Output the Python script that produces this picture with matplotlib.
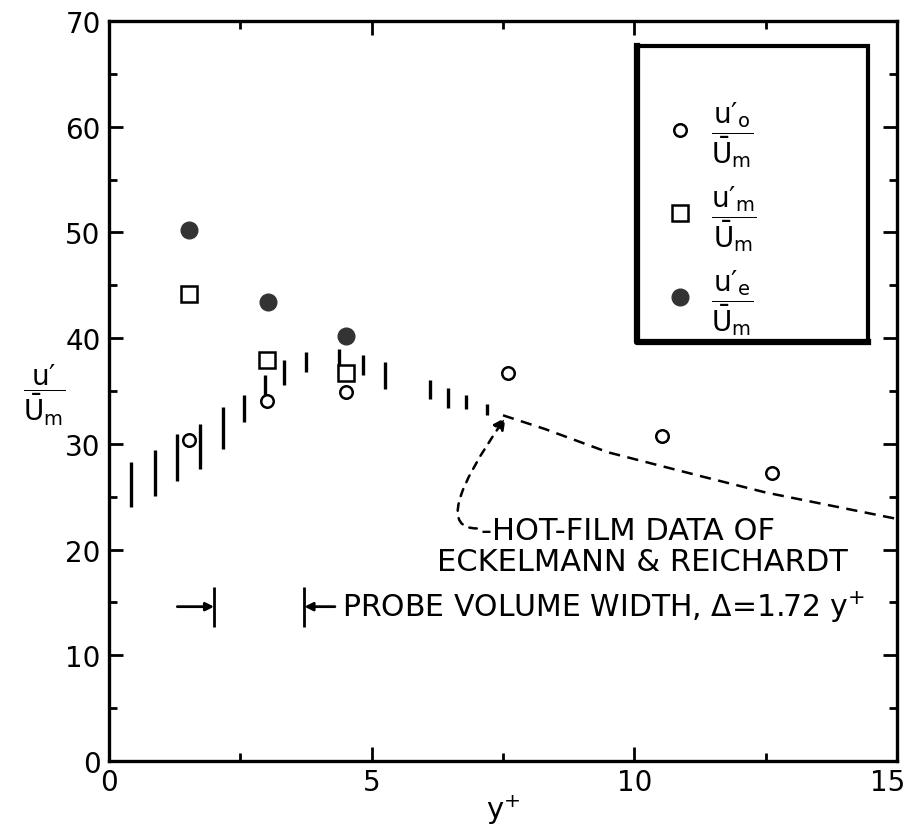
"""Turbulence intensity near the wall: u'/U_m against y+ (recreated figure)."""

import matplotlib

matplotlib.use("Agg")
import matplotlib.pyplot as plt
import matplotlib.transforms as mtransforms
from matplotlib.lines import Line2D
from matplotlib.patches import Rectangle

# data
y_plus_open = [1.52, 3.0, 4.51, 7.6, 10.53, 12.62]
u_open = [30.4, 34.1, 34.9, 36.7, 30.7, 27.2]
y_plus_square = [1.52, 3.0, 4.51]
u_square = [44.2, 37.9, 36.7]
y_plus_filled = [1.52, 3.03, 4.51]
u_filled = [50.2, 43.4, 40.2]

# vertical range bars
bar_x = [0.41, 0.88, 1.30, 1.73, 2.17, 2.56, 2.96, 3.34, 3.75, 4.37, 4.84, 5.26, 6.11, 6.46, 6.79, 7.19]
bar_lo = [24.0, 25.1, 26.5, 27.6, 29.5, 32.1, 34.6, 35.6, 36.8, 37.0, 36.5, 35.2, 34.2, 33.4, 33.3, 32.7]
bar_hi = [28.3, 29.4, 30.9, 31.9, 33.5, 34.6, 36.5, 37.9, 38.7, 39.0, 38.4, 37.7, 36.0, 35.3, 34.6, 33.8]

# hot-film curve (Eckelmann & Reichardt)
hf_x = [7.5, 8.3, 9.5, 11.3, 12.5, 15.0]
hf_y = [32.7, 31.4, 29.2, 26.9, 25.4, 22.9]

probe_left = 2.0
probe_width = 1.72
probe_y = 14.6

x_ticks = [0, 5, 10, 15]
y_ticks = [0, 10, 20, 30, 40, 50, 60, 70]

plt.rcParams["font.family"] = ["DejaVu Sans"]
plt.rcParams["mathtext.default"] = "regular"

fig = plt.figure(figsize=(9.07, 8.29), dpi=100)
ax = fig.add_axes([0.1202, 0.0808, 0.8688, 0.8927])

ax.vlines(bar_x, bar_lo, bar_hi, colors="black", linewidth=2.4, zorder=2)
ax.plot(y_plus_open, u_open, "o", ms=9, mfc="white", mec="black", mew=1.8, zorder=4)
ax.plot(y_plus_square, u_square, "s", ms=12, mfc="white", mec="black", mew=1.8, zorder=4)
ax.plot(y_plus_filled, u_filled, "o", ms=12, mfc="#333333", mec="#333333", zorder=4)
ax.plot(hf_x, hf_y, color="black", linestyle=(0, (4.5, 3)), linewidth=1.8, zorder=3)

# annotation for hot-film curve
ax.annotate(
    "",
    xy=(hf_x[0] + 0.05, hf_y[0] - 0.2),
    xytext=(7.0, 22.0),
    arrowprops=dict(
        arrowstyle="-|>",
        connectionstyle="angle3,angleA=180,angleB=55",
        linestyle=(0, (3, 3)),
        linewidth=1.8,
        color="black",
        mutation_scale=18,
        shrinkA=0,
        shrinkB=0,
    ),
)
ax.text(9.87, 21.85, "-HOT-FILM DATA OF", fontsize=22, ha="center", va="center")
ax.text(10.15, 18.9, "ECKELMANN & REICHARDT", fontsize=22, ha="center", va="center")

# probe volume width marker
probe_right = probe_left + probe_width
ax.vlines([probe_left, probe_right], 12.7, 16.5, colors="black", linewidth=2)
ax.annotate("", xy=(probe_left, probe_y), xytext=(probe_left - 0.7, probe_y),
            arrowprops=dict(arrowstyle="-|>", lw=2, color="black",
                            mutation_scale=12, shrinkA=0, shrinkB=0))
ax.annotate("", xy=(probe_right, probe_y), xytext=(probe_right + 0.58, probe_y),
            arrowprops=dict(arrowstyle="-|>", lw=2, color="black",
                            mutation_scale=12, shrinkA=0, shrinkB=0))
ax.text(probe_right + 0.72, probe_y, r"PROBE VOLUME WIDTH, Δ=1.72 y$^{+}$",
        fontsize=21.5, ha="left", va="center")

ax.set_xlim(0, 15)
ax.set_ylim(0, 70)
ax.set_xticks(x_ticks)
ax.set_yticks(y_ticks)
ax.set_xticks([2.5, 7.5, 12.5], minor=True)
ax.set_yticks([5, 15, 25, 35, 45, 55, 65], minor=True)
ax.tick_params(which="both", direction="in", top=True, right=True, width=2, labelsize=20)
ax.tick_params(which="major", length=10)
ax.tick_params(axis="x", which="major", pad=5)
ax.tick_params(axis="y", which="major", pad=6)
ax.tick_params(which="minor", length=6)
for s in ax.spines.values():
    s.set_linewidth(2.4)

# last x tick label sits against the right edge
last = ax.get_xticklabels()[-1]
last.set_horizontalalignment("right")
last.set_transform(last.get_transform() + mtransforms.ScaledTranslation(6 / 72, 0, fig.dpi_scale_trans))

ax.set_xlabel(r"y$^{+}$", fontsize=21)
ax.xaxis.set_label_coords(0.5, -0.042)
ax.set_ylabel("$\\dfrac{u\u2032}{\\bar{U}_{m}}$", fontsize=20, rotation=0,
              va="center", ha="center")
ax.yaxis.set_label_coords(-0.082, 0.496)

# legend in a heavy box (thicker left and bottom edge, like the print)
ax.add_patch(Rectangle((0.670, 0.566), 0.293, 0.400, transform=ax.transAxes,
                       fill=True, facecolor="white", edgecolor="black", linewidth=3, zorder=5))
ax.plot([0.670, 0.670, 0.963], [0.966, 0.566, 0.566], transform=ax.transAxes,
        color="black", linewidth=4.5, solid_capstyle="projecting", zorder=5)
handles = [
    Line2D([], [], marker="o", ms=9, mfc="white", mec="black", mew=1.8, ls="none"),
    Line2D([], [], marker="s", ms=12, mfc="white", mec="black", mew=1.8, ls="none"),
    Line2D([], [], marker="o", ms=12, mfc="#333333", mec="#333333", ls="none"),
]
labels = [
    "$\\dfrac{u\u2032_{o}}{\\bar{U}_{m}}$",
    "$\\dfrac{u\u2032_{m}}{\\bar{U}_{m}}$",
    "$\\dfrac{u\u2032_{e}}{\\bar{U}_{m}}$",
]
leg = ax.legend(
    handles, labels, loc="center left", bbox_to_anchor=(0.704, 0.734),
    fontsize=20, frameon=False, labelspacing=0.5, borderpad=0,
    handletextpad=0.5, handlelength=1.2, borderaxespad=0,
)
leg.set_zorder(6)

fig.savefig("out.png", dpi=100)
